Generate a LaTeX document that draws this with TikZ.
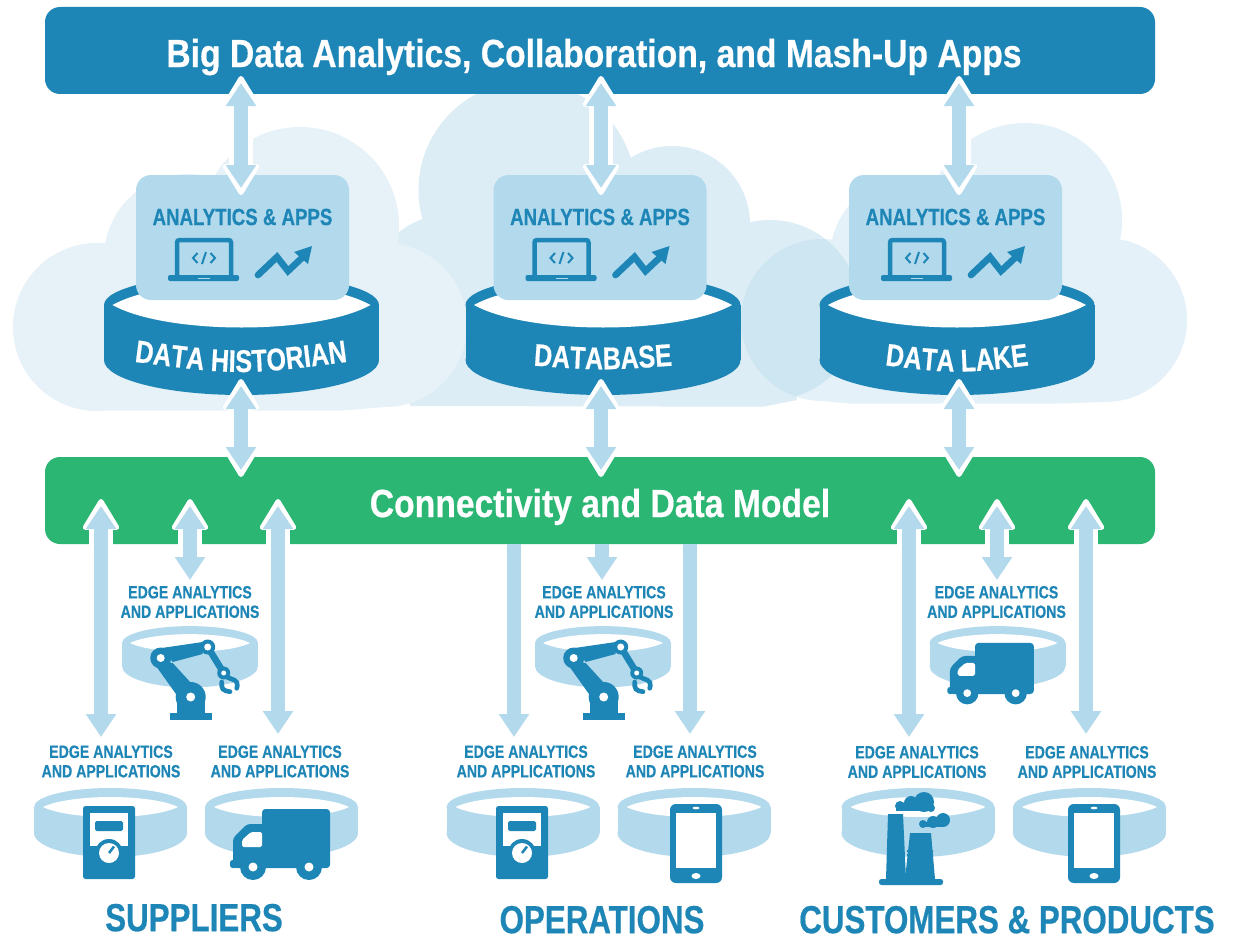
\documentclass[tikz,border=0pt]{standalone}
\usepackage{fontspec}
\setmainfont{Liberation Sans}[FakeStretch=0.8,BoldFeatures={FakeBold=0.5}]
\newfontfamily\titlefont{Liberation Sans}[FakeStretch=0.86,BoldFeatures={FakeBold=0.5}]
\usetikzlibrary{arrows.meta,decorations.text}
\definecolor{topblue}{HTML}{1E86B6}
\definecolor{barblue}{HTML}{B3D9EC}
\definecolor{dkgreen}{HTML}{2CB673}
\definecolor{cloudA}{HTML}{E6F2F8}
\definecolor{cloudB}{HTML}{DDEDF6}
\newcommand{\cyltext}{\fontsize{18.8pt}{20}\selectfont\bfseries\color{white}}

\begin{document}
\begin{tikzpicture}[x=0.6pt,y=-0.6pt,semithick]
\tikzstyle{bar}=[inner sep=0pt,minimum width=666pt,minimum height=52.2pt,rounded corners=9pt,text=white,text height=19.8pt,text depth=0pt,font=\fontsize{23.5pt}{26}\titlefont\bfseries]
\tikzstyle{apps}=[inner sep=0pt,fill=barblue,minimum width=127.8pt,minimum height=75pt,rounded corners=9pt]
\tikzstyle{appstext}=[inner sep=0pt,text=topblue,font=\fontsize{14pt}{16}\selectfont\bfseries]
\tikzstyle{edgetext}=[inner sep=0pt,align=center,text=topblue,font=\fontsize{10.6pt}{11.7pt}\selectfont\bfseries]
\tikzstyle{grouptext}=[inner sep=0pt,text=topblue,text height=17pt,text depth=0pt,font=\fontsize{23.5pt}{28}\selectfont\bfseries]
\tikzstyle{biarrow}=[draw=barblue,line width=8.8pt,{Triangle[width=17.4pt,length=13.8pt]}-{Triangle[width=17.4pt,length=13.8pt]},shorten >=4.2pt,shorten <=4.2pt,
  preaction={draw=white,line width=14.8pt,{Triangle[round,line width=3pt,width=23.4pt,length=20pt]}-{Triangle[round,line width=3pt,width=23.4pt,length=20pt]},shorten >=0pt,shorten <=0pt}]
\tikzstyle{downarrow}=[draw=barblue,line width=8.8pt,-{Triangle[width=17.4pt,length=13.8pt]}]
\tikzset{
  cyl/.pic={
    \fill[topblue] (0,0) ellipse [x radius=137.5,y radius=31];
    \fill[topblue] (-137.5,0) rectangle (137.5,55);
    \fill[topblue] (0,55) ellipse [x radius=137.5,y radius=35];
    \fill[white] (-129,0) .. controls (-75,-30) and (75,-30) .. (129,0) .. controls (75,30) and (-75,30) .. cycle;
  },
  ring/.pic={
    \fill[barblue] (0,0) ellipse [x radius=76.5,y radius=19];
    \fill[barblue] (-76.5,0) rectangle (76.5,26);
    \fill[barblue] (0,26) ellipse [x radius=76.5,y radius=24];
    \fill[white] (-67.5,0) .. controls (-40,-13.3) and (40,-13.3) .. (67.5,0) .. controls (40,13.3) and (-40,13.3) .. cycle;
  },
  laptop/.pic={
    \draw[topblue,line width=2.7pt,rounded corners=1.5pt] (-27,18) -- (-27,-18) -- (27,-18) -- (27,18);
    \fill[topblue,rounded corners=1.2pt] (-36,17) rectangle (35,23);
    \fill[barblue] (-6,19.5) rectangle (6,21);
    \draw[topblue,line width=1.2pt] (-6.5,-5) -- (-11,0) -- (-6.5,5) (-2,6) -- (2,-6) (6.5,-5) -- (11,0) -- (6.5,5);
  },
  chart/.pic={
    \draw[topblue,line width=4pt,line cap=round] (-27,15) -- (-8,-3) -- (3,11) -- (19,-4);
    \fill[topblue] (9,-8) -- (27,-14) -- (23,4) -- cycle;
  },
  meter/.pic={
    \fill[topblue,rounded corners=1.5pt] (-26,-36.5) rectangle (26,36.5);
    \fill[white] (-19,-29.5) rectangle (19,3.5);
    \fill[topblue,rounded corners=1pt] (-14,-21.5) rectangle (14,-11.5);
    \fill[topblue] (0,10.5) circle (14);
    \fill[white] (0,10.5) circle (10);
    \draw[topblue,line width=1.5pt] (0,10.5) -- (5,4);
  },
  truck/.pic={
    \fill[topblue,rounded corners=2pt] (0,-59) rectangle (68,0);
    \fill[topblue,rounded corners=2pt] (-29,0) -- (-29,-30) -- (-15,-44) -- (3,-44) -- (3,0) -- cycle;
    \fill[topblue,rounded corners=1.5pt] (-32,-8) rectangle (-25,0);
    \fill[white,rounded corners=1pt] (-20,-21) -- (-20,-28) -- (-11,-36) -- (0,-36) -- (0,-21) -- cycle;
    \foreach \wx in {-9,47} {
      \fill[topblue] (\wx,-1) circle (13);
      \fill[white] (\wx,-1) circle (4.5);
    }
  },
  robot/.pic={
    \fill[topblue] (-21,16) rectangle (21,23);
    \fill[topblue] (-14,16) -- (-14,0) -- (14,0) -- (14,16) -- cycle;
    \fill[topblue] (0,0) circle (15);
    \fill[topblue] (-39,-37) -- (-14,-2) -- (4,-10) -- (-18,-34) -- cycle;
    \fill[topblue] (-29,-49) -- (12,-55) -- (12,-43) -- (-18,-35) -- cycle;
    \draw[topblue,line width=4pt] (17,-50) -- (33,-24);
    \fill[topblue] (-30,-39) circle (10.5);
    \fill[topblue] (17,-50) circle (7.5);
    \fill[topblue] (33,-24) circle (6.5);
    \fill[white] (0,0) circle (4.5) (-30,-39) circle (4) (17,-50) circle (3.5) (33,-24) circle (2.5);
    \draw[topblue,line width=2.8pt,line cap=round,rounded corners=2.5pt] (36,-20) -- (47.6,-15.3) -- (46,-8.7);
    \draw[topblue,line width=2.8pt,line cap=round,rounded corners=2.5pt] (31,-15) -- (31,-7) -- (39.3,-5.3);
  },
  tablet/.pic={
    \fill[topblue,rounded corners=3.5pt] (-26,-39.5) rectangle (26,39.5);
    \fill[white] (-20,-30.5) rectangle (20,24.5);
    \fill[white] (0,-35.5) ellipse [x radius=3.5,y radius=1.3];
    \fill[white] (0,32.5) ellipse [x radius=4.5,y radius=3];
  },
  factory/.pic={
    \fill[topblue,rounded corners=1.5pt] (-32,29) rectangle (32,35);
    \fill[topblue] (-23,-36) -- (-8,-36) -- (-5,29) -- (-25,29) -- cycle;
    \fill[topblue] (-1,-17) -- (20,-17) -- (24,29) -- (-6,29) -- cycle;
    \fill[topblue] (-4,0) rectangle (22,2) (-4,4) rectangle (22,6);
    \fill[topblue] (13,-48) circle (10) (0,-47) circle (7) (-11,-44) circle (5) (20,-42) circle (4);
    \fill[topblue] (-15,-44) rectangle (21,-39);
    \fill[topblue] (32,-30) circle (7) (22,-28) circle (6) (12,-26) circle (4);
    \fill[topblue] (9,-28) rectangle (33,-23);
  }
}

\path[use as bounding box,fill=white] (0,0) rectangle (1237,939);

% clouds
\fill[cloudB] (527,190) circle (108.5) (672,224) circle (78) (770,310) circle (90) (455,305) circle (92)
  (400,290) -- (770,290) -- (797,400) -- (763,406.7) -- (410,406) -- cycle;
\fill[cloudA] (97,327) circle (84) (188,258) circle (84) (300,226) circle (99) (385,325) circle (82)
  (97,270) -- (385,270) -- (385,407) -- (340,410.7) -- (97,410.7) -- cycle;
\fill[barblue,opacity=0.35] (822,320) circle (81) (912,258) circle (82) (1025,220) circle (97) (1105,320) circle (82)
  (822,270) -- (1105,270) -- (1105,402) -- (1060,403.5) -- (850,403.5) -- (822,401) -- cycle;

\node[bar,fill=topblue] (top) at (600,50.5) {Big Data Analytics, Collaboration, and Mash-Up Apps\kern7.2pt};
\node[bar,fill=dkgreen] (green) at (600,500.5) {Connectivity and Data Model};

\foreach \n/\cx/\bx/\ax in {1/241.5/242.5/241, 2/603/600/601, 3/957/955.5/959} {
  \coordinate (c\n) at (\cx,305);
  \pic at (c\n) {cyl};
  \node[apps] (b\n) at (\bx,237.5) {};
  \node[appstext] (bt\n) [above of=b\n,node distance=12.3pt] {ANALYTICS \& APPS};
  \pic at ([xshift=-23.1pt,yshift=-12.3pt]b\n.center) {laptop};
  \pic at ([xshift=25.5pt,yshift=-13.5pt]b\n.center) {chart};
  \coordinate (up\n) at (\ax,76);
  \coordinate (dn\n) at (\ax,195);
  \coordinate (cu\n) at (\ax,379);
  \coordinate (cd\n) at (\ax,477);
  \draw[biarrow] (up\n) -- (dn\n);
  \draw[biarrow] (cu\n) -- (cd\n);
}

\path[decorate,decoration={text along path,text align=center,text={|\cyltext|DATA HISTORIAN}}] (121,360) .. controls (241,376) .. (361,360);
\path[decorate,decoration={text along path,text align=center,text={|\cyltext|DATABASE}}] (513,364) .. controls (603,371) .. (693,364);
\path[decorate,decoration={text along path,text align=center,text={|\cyltext|DATA LAKE}}] (867,363) .. controls (957,374.5) .. (1047,363);

% rings and labels
\foreach \n/\x/\y/\s/\dx/\d in {r1/110.5/807/1/0.3/27.3, r2/281.5/807/1/-0.9/27.3, r3/523/807/1/1.8/27.3, r4/694/807/1/0.6/27.3, r5/918/807/1/-0.6/27, r6/1089.5/807/1/-1.5/27,
    s1/190/643/0.889/0/24.6, s2/603/643/0.889/0.6/24.6, s3/997.5/643/0.889/-0.6/24.6} {
  \coordinate (\n) at (\x,\y);
  \pic[scale=\s] at (\n) {ring};
  \node[edgetext,xshift=\dx pt] (\n t) [above of=\n,node distance=\d pt] {EDGE ANALYTICS\\AND APPLICATIONS};
}

\foreach \x/\b in {101/744, 190/587, 278/741, 909/744, 997/587, 1086/741} {
  \coordinate (au\x) at (\x,499);
  \coordinate (ad\x) at (\x,\b);
  \draw[biarrow] (au\x) -- (ad\x);
}
\foreach \x/\b in {514/737, 602/580, 690/734} {
  \coordinate (ou\x) at (\x,544);
  \coordinate (od\x) at (\x,\b);
  \draw[downarrow] (ou\x) -- (od\x);
}

\pic at (109,842.5) {meter};
\pic at (522,842.5) {meter};
\pic at (262,868) {truck};
\pic[scale=0.865] at (975,694) {truck};
\pic at (190.7,697) {robot};
\pic at (603.7,697) {robot};
\pic at (696,843.5) {tablet};
\pic at (1094,843.5) {tablet};
\pic at (911,850) {factory};

\node[grouptext] (g1) at (194,917) {SUPPLIERS};
\node[grouptext] (g2) at (602,919) {OPERATIONS};
\node[grouptext] (g3) at (1007,919) {CUSTOMERS \& PRODUCTS};

\end{tikzpicture}
\end{document}
